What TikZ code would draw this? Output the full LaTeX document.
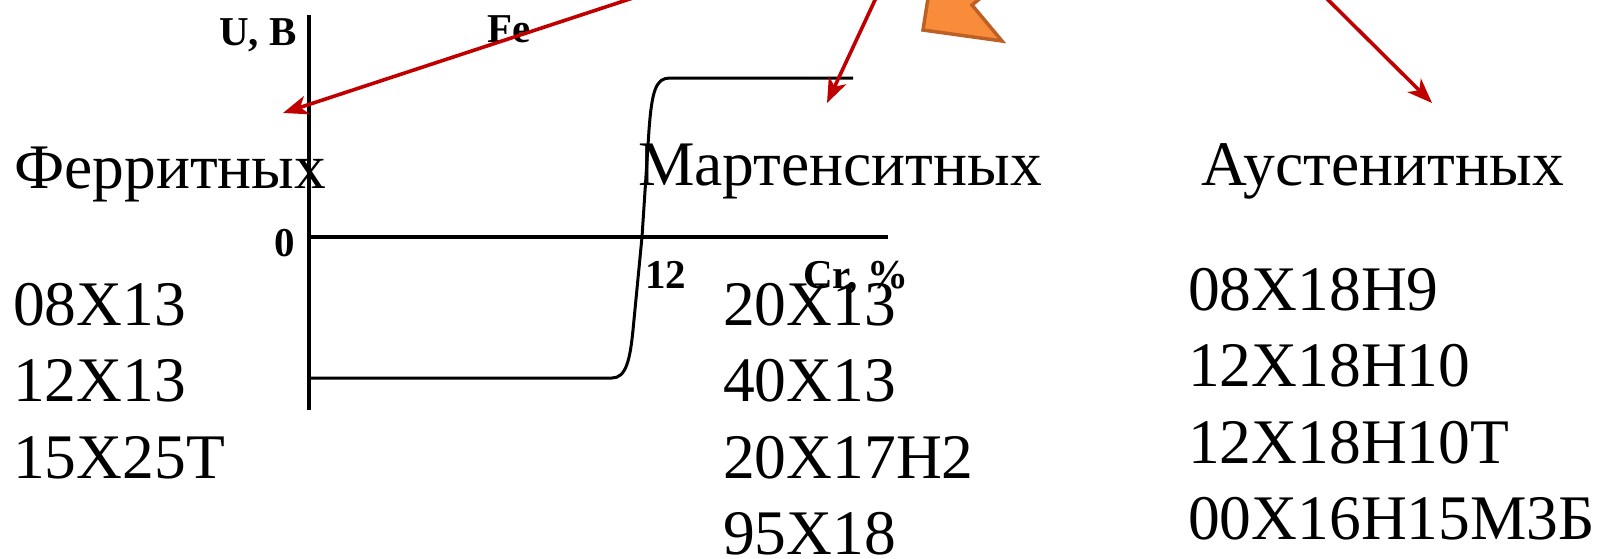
\documentclass[tikz,border=0pt]{standalone}
\usepackage{fontspec}
\setmainfont{Liberation Serif}
\usetikzlibrary{arrows.meta,positioning}
\definecolor{arrowred}{RGB}{192,0,0}
\definecolor{tailfill}{RGB}{249,140,58}
\definecolor{tailline}{RGB}{190,95,38}

\tikzset{
  header/.style={anchor=base west,inner sep=0pt,font=\fontsize{63.5}{74}\selectfont},
  grade/.style={anchor=base west,inner sep=0pt,font=\fontsize{63.5}{74}\selectfont},
  axislabel/.style={inner sep=0pt,font=\fontsize{41}{48}\selectfont\bfseries},
  pointer/.style={draw=arrowred,line width=3.6pt,-{Stealth[length=25pt,width=19pt,inset=7pt]}},
}

\begin{document}
\begin{tikzpicture}[x=1pt,y=-1pt]
	\useasboundingbox (0,0) rectangle (1606,558);
	\clip (0,0) rectangle (1606,558);
	% axes and curve
	\draw[line width=4pt] (309,15) -- (309,410);
	\draw[line width=4pt] (309,237) -- (888,237);
	\draw[line width=3pt] (309,378) -- (612,378) .. controls (626,378) and (630,360) .. (633,330)
		-- (642,237) -- (649,130) .. controls (652,90) and (656,78) .. (670,78) -- (853,78);
	\node[axislabel,anchor=base east] (uaxis) at (297,45) {U, B};
	\node[axislabel,anchor=base west] (fe) at (487,42) {Fe};
	\node[axislabel,anchor=base east] (zero) at (295,256) {0};
	\node[axislabel,anchor=base west] (twelve) at (645,288) {12};
	\node[axislabel,anchor=base west] (cr) at (803,288) {Cr, \%};

	% orange tail at the top
	\draw[line width=3.5pt,fill=tailfill,draw=tailline,line join=miter]
		(929,-8) -- (923,30) -- (1002,41) -- (972,5) -- (988,-8) -- cycle;

	% groups
	\node[header] (ferrite) at (14,188) {Ферритных};
	\node[header] (marten) at (638,185) {Мартенситных};
	\node[header] (austen) at (1201,185) {Аустенитных};

	\foreach \g [count=\i] in {08Х13,12Х13,15Х25Т}
		\node[grade] (fer\i) at (13,{325+76.6*(\i-1)}) {\g};
	\foreach \g [count=\i] in {20Х13,40Х13,20Х17Н2,95Х18}
		\node[grade] (mar\i) at (723,{325+76.6*(\i-1)}) {\g};
	\foreach \g [count=\i] in {08Х18Н9,12Х18Н10,12Х18Н10Т,00Х16Н15М3Б}
		\node[grade] (aus\i) at (1188,{310+76.6*(\i-1)}) {\g};

	% red pointers
	\coordinate (fromA) at (718,-30);
	\coordinate (toA) at (283,113);
	\coordinate (fromB) at (889,-30);
	\coordinate (toB) at (827,103);
	\coordinate (fromC) at (1298,-30);
	\coordinate (toC) at (1432,103);
	\draw[pointer] (fromA) -- (toA);
	\draw[pointer] (fromB) -- (toB);
	\draw[pointer] (fromC) -- (toC);
\end{tikzpicture}
\end{document}
